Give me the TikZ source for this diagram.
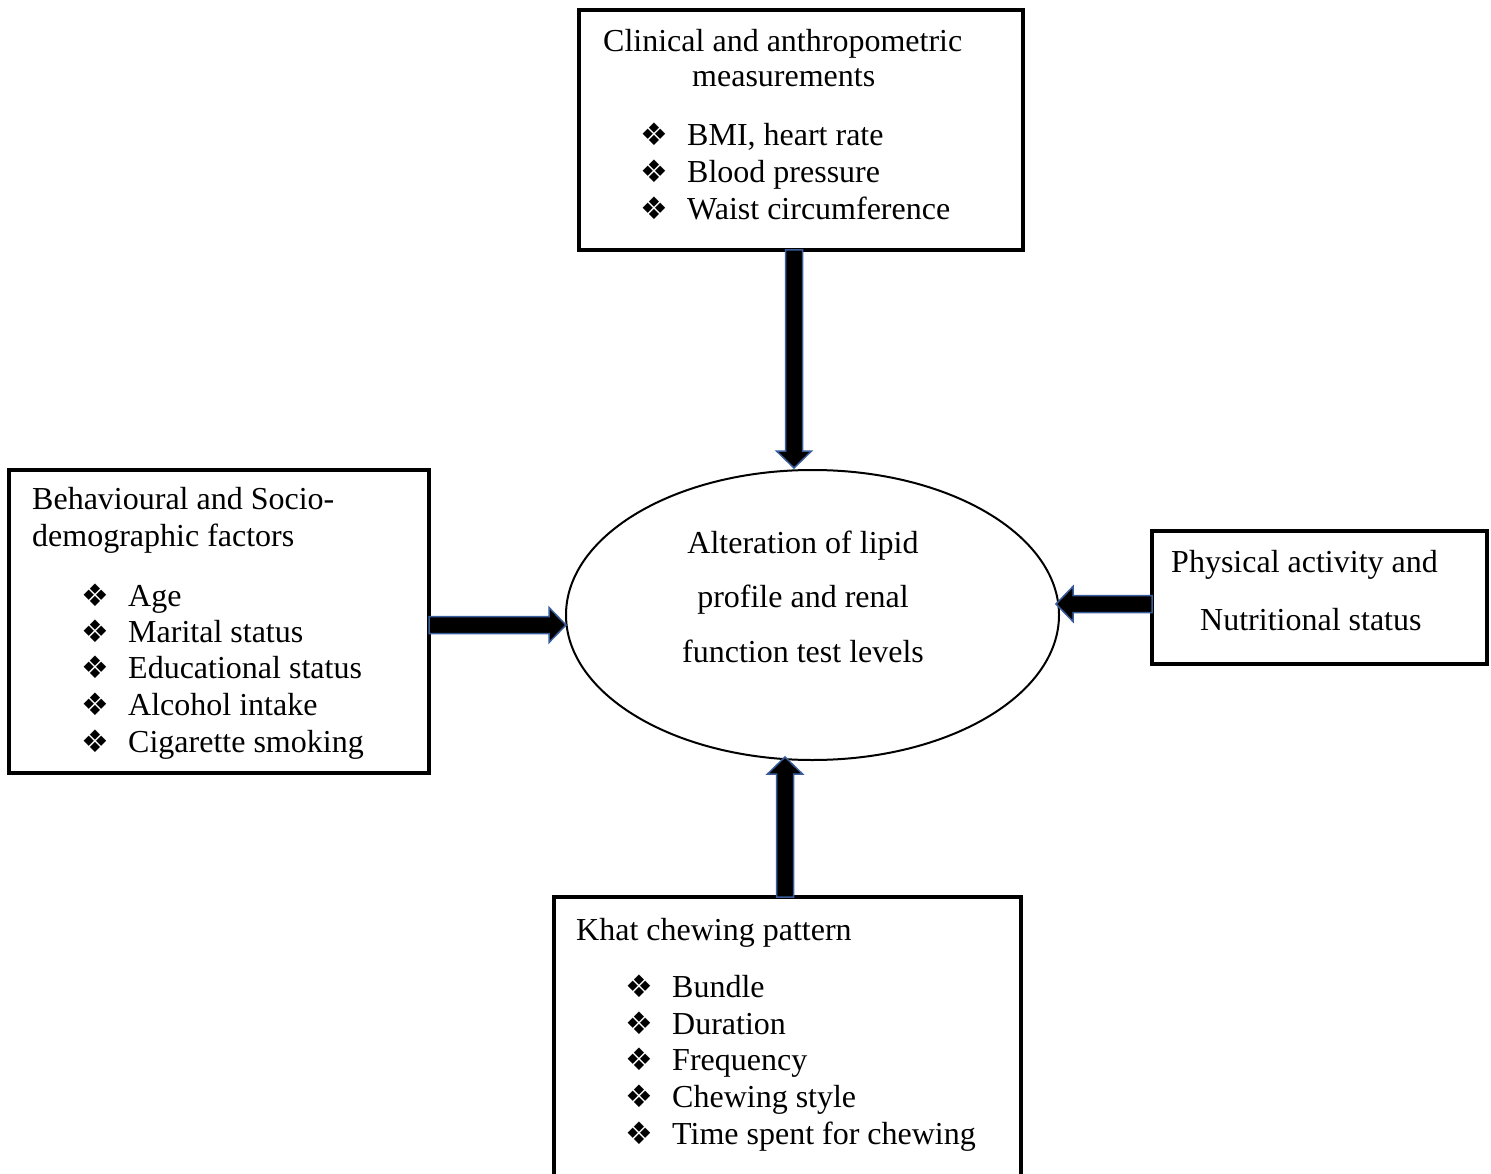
\documentclass[tikz,border=0pt]{standalone}
\usepackage{fontspec}
\setmainfont{Liberation Serif}
\newfontfamily\symfont{DejaVu Sans}
\usetikzlibrary{calc,shapes.geometric}
\definecolor{arrowblue}{RGB}{58,94,156}
\newcommand{\bigtext}{\fontsize{32}{37}\selectfont}
\newcommand{\bul}{{\symfont\fontsize{31}{37}\selectfont ❖}}
\tikzset{
  boxnode/.style={draw=black, line width=3.5pt, rectangle, inner sep=0pt, outer sep=0pt},
  ellnode/.style={draw=black, line width=2pt, ellipse, inner sep=0pt, outer sep=0pt},
  txt/.style={font=\bigtext, inner sep=0pt, anchor=base west},
  ctxt/.style={font=\bigtext, inner sep=0pt, anchor=base},
  bulnode/.style={inner sep=0pt, anchor=base west},
  fatarrow/.style={draw=arrowblue, line width=1.5pt, fill=black, line join=miter,
    to path={let \p1=(\tikztostart), \p2=(\tikztotarget), \n1={atan2(\y2-\y1,\x2-\x1)} in
      ($(\p1)+(\n1+90:8.5pt)$)
      -- ($(\p2)+(\n1+180:17pt)+(\n1+90:8.5pt)$)
      -- ($(\p2)+(\n1+180:17pt)+(\n1+90:17.5pt)$)
      -- (\p2)
      -- ($(\p2)+(\n1+180:17pt)+(\n1-90:17.5pt)$)
      -- ($(\p2)+(\n1+180:17pt)+(\n1-90:8.5pt)$)
      -- ($(\p1)+(\n1-90:8.5pt)$) -- cycle}}
}
\begin{document}
\begin{tikzpicture}[x=1pt,y=-1pt]
\useasboundingbox[fill=white] (0,0) rectangle (1491,1174);

% boxes
\node[boxnode, minimum width=444pt, minimum height=240pt] (top) at (801,130) {};
\node[boxnode, minimum width=420pt, minimum height=303pt] (lb) at (219,621.5) {};
\node[boxnode, minimum width=335pt, minimum height=133pt] (rb) at (1319.5,597.5) {};
\node[boxnode, minimum width=467pt, minimum height=290pt] (bb) at (787.5,1042) {};
\node[ellnode, minimum width=493pt, minimum height=290pt] (ell) at (812.5,615) {};

% top box text
\node[txt] (t1) at (603,52) {Clinical and anthropometric};
\node[txt] (t2) at (692,87) {measurements};
\node[bulnode] (tb1) at (640,146) {\bul};
\node[txt] (tt1) at (687,146) {BMI, heart rate};
\node[bulnode] (tb2) at (640,183) {\bul};
\node[txt] (tt2) at (687,183) {Blood pressure};
\node[bulnode] (tb3) at (640,220) {\bul};
\node[txt] (tt3) at (687,220) {Waist circumference};

% left box text
\node[txt] (l1) at (32,509) {Behavioural and Socio-};
\node[txt] (l2) at (32,546) {demographic factors};
\node[bulnode] (lb1) at (81,606) {\bul};
\node[txt] (lt1) at (128,606) {Age};
\node[bulnode] (lb2) at (81,642) {\bul};
\node[txt] (lt2) at (128,642) {Marital status};
\node[bulnode] (lb3) at (81,678) {\bul};
\node[txt] (lt3) at (128,678) {Educational status};
\node[bulnode] (lb4) at (81,715) {\bul};
\node[txt] (lt4) at (128,715) {Alcohol intake};
\node[bulnode] (lb5) at (81,752) {\bul};
\node[txt] (lt5) at (128,752) {Cigarette smoking};

% right box text
\node[txt] (r1) at (1171,572) {Physical activity and};
\node[txt] (r2) at (1200,630) {Nutritional status};

% bottom box text
\node[txt] (b0) at (576,940) {Khat chewing pattern};
\node[bulnode] (bb1) at (625,997) {\bul};
\node[txt] (bt1) at (672,997) {Bundle};
\node[bulnode] (bb2) at (625,1034) {\bul};
\node[txt] (bt2) at (672,1034) {Duration};
\node[bulnode] (bb3) at (625,1070) {\bul};
\node[txt] (bt3) at (672,1070) {Frequency};
\node[bulnode] (bb4) at (625,1107) {\bul};
\node[txt] (bt4) at (672,1107) {Chewing style};
\node[bulnode] (bb5) at (625,1144) {\bul};
\node[txt] (bt5) at (672,1144) {Time spent for chewing};

% ellipse text
\node[ctxt] (e1) at (803,553) {Alteration of lipid};
\node[ctxt] (e2) at (803,607) {profile and renal};
\node[ctxt] (e3) at (803,662) {function test levels};

% arrow end points
\coordinate (a1s) at ([xshift=-7pt]top.south);
\coordinate (a1e) at ([yshift=2pt]a1s |- ell.north);
\coordinate (a2s) at ([yshift=-3.5pt]lb.east);
\coordinate (a2e) at (a2s -| ell.west);
\coordinate (a3s) at ([yshift=-6.5pt]rb.west);
\coordinate (a3e) at ([xshift=-3pt]a3s -| ell.east);
\coordinate (a4s) at ([xshift=-2.5pt]bb.north);
\coordinate (a4e) at ([yshift=3pt]a4s |- ell.south);

\path[fatarrow] (a1s) to (a1e);
\path[fatarrow] (a2s) to (a2e);
\path[fatarrow] (a3s) to (a3e);
\path[fatarrow] (a4s) to (a4e);
\end{tikzpicture}
\end{document}
